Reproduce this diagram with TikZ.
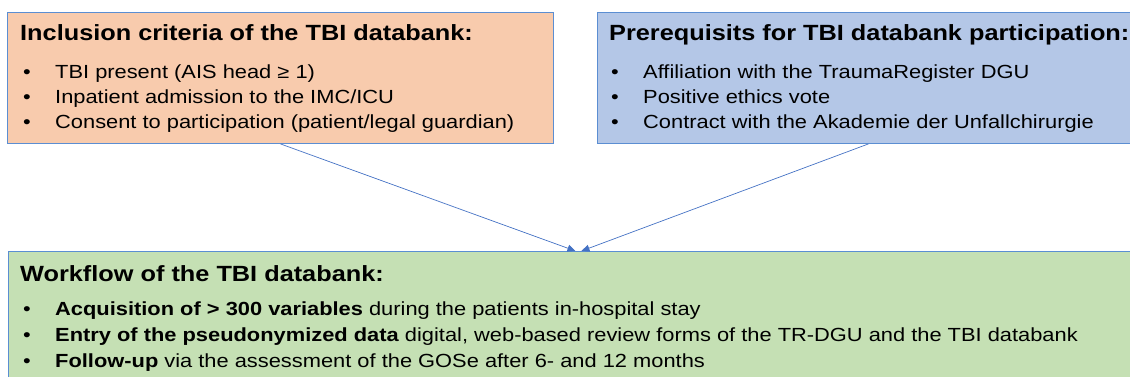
\documentclass[tikz,border=0pt]{standalone}
\usepackage{fontspec}
\setmainfont{Liberation Sans}[FakeStretch=1.15]
\usetikzlibrary{arrows.meta}
\definecolor{tbiorange}{RGB}{248,203,173}
\definecolor{tbiblue}{RGB}{180,199,231}
\definecolor{tbigreen}{RGB}{197,224,180}
\definecolor{tbiline}{RGB}{68,114,196}
\definecolor{tbiframe}{RGB}{91,142,210}

\begin{document}
\begin{tikzpicture}[x=1pt, y=-1pt, every node/.style={inner sep=0pt, font=\fontsize{19}{23}\selectfont},
    panel/.style={draw=tbiframe, line width=0.9pt, anchor=north west},
    head/.style={anchor=base west, font=\fontsize{22}{26}\selectfont\bfseries},
    item/.style={anchor=base west},
    dot/.style={anchor=base},
    link/.style={draw=tbiline, line width=0.7pt, -{Triangle[length=8pt, width=7pt]}}]
        \clip (0,0) rectangle (1130,377);
        % the three panels
        \node[panel, fill=tbiorange, minimum width=546, minimum height=131] (incl) at (7,12) {};
        \node[panel, fill=tbiblue, minimum width=542, minimum height=131] (prq) at (597,12) {};
        \node[panel, fill=tbigreen, minimum width=1140, minimum height=140] (flow) at (8,251) {};
        % headings
        \node[head] (incl-head) at (20,41) {Inclusion criteria of the TBI databank:};
        \node[head] (prq-head) at (609,41) {Prerequisits for TBI databank participation:};
        \node[head] (flow-head) at (20,281) {Workflow of the TBI databank:};
        % bullet lists
        \foreach \txt [count=\i] in {TBI present (AIS head ≥ 1), Inpatient admission to the IMC/ICU,
            Consent to participation (patient/legal guardian)} {
          \node[dot] (incl-dot-\i) at (27,79+25*\i-25) {\textbullet};
          \node[item] (incl-\i) at (55,79+25*\i-25) {\txt};
        }
        \foreach \txt [count=\i] in {Affiliation with the TraumaRegister DGU, Positive ethics vote,
            Contract with the Akademie der Unfallchirurgie} {
          \node[dot] (prq-dot-\i) at (615,79+25*\i-25) {\textbullet};
          \node[item] (prq-\i) at (643,79+25*\i-25) {\txt};
        }
        \foreach \txt [count=\i] in {{\textbf{Acquisition of > 300 variables} during the patients in-hospital stay},
            {\textbf{Entry of the pseudonymized data} digital, web-based review forms of the TR-DGU and the TBI databank},
            {\textbf{Follow-up} via the assessment of the GOSe after 6- and 12 months}} {
          \node[dot] (flow-dot-\i) at (27,315+26*\i-26) {\textbullet};
          \node[item] (flow-\i) at (55,315+26*\i-26) {\txt};
        }
        % both panels feed the workflow
        \draw[link] (incl.south) -- ([xshift=-3pt]flow.north);
        \draw[link] (prq.south) -- ([xshift=3pt]flow.north);
      \end{tikzpicture}
\end{document}
